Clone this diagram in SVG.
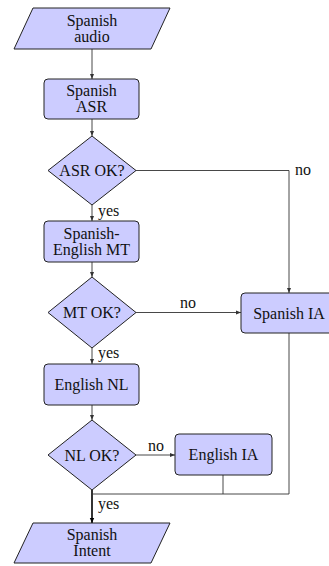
<svg xmlns="http://www.w3.org/2000/svg" width="329" height="566" viewBox="0 0 329 566">
<defs>
<style>
.n{fill:#ccccff;stroke:#222;stroke-width:1}
.t{text-anchor:middle}
.c{fill:none;stroke:#333;stroke-width:0.9}
.k{fill:none;stroke:#000;stroke-width:1.6}
</style>
<marker id="ah" markerUnits="userSpaceOnUse" markerWidth="6" markerHeight="6" viewBox="0 0 6 6" refX="5" refY="3" orient="auto">
<path d="M0,1 L5,3 L0,5 Z" fill="#333"/>
</marker>
<marker id="ahk" markerUnits="userSpaceOnUse" markerWidth="6" markerHeight="6" viewBox="0 0 6 6" refX="5" refY="3" orient="auto">
<path d="M0,0.8 L5,3 L0,5.2 Z" fill="#000"/>
</marker>
</defs>
<rect width="329" height="566" fill="#fff"/>
<g font-family="Liberation Serif, Times New Roman, DejaVu Serif, serif" font-size="16" fill="#111">
<g id="connectors">
<path class="c" d="M92,49 V79" marker-end="url(#ah)"/>
<path class="c" d="M92,119 V136" marker-end="url(#ah)"/>
<path class="c" d="M92,205 V221" marker-end="url(#ah)"/>
<path class="c" d="M92,262 V277" marker-end="url(#ah)"/>
<path class="c" d="M92,348 V364" marker-end="url(#ah)"/>
<path class="c" d="M92,405 V420" marker-end="url(#ah)"/>
<path class="k" d="M92,490 V523" marker-end="url(#ahk)"/>
<path class="c" d="M136,170.5 H289 V293" marker-end="url(#ah)"/>
<path class="c" d="M136,312.5 H241" marker-end="url(#ah)"/>
<path class="c" d="M136,455 H175" marker-end="url(#ah)"/>
<path class="c" d="M223,475 V494"/>
<path class="c" d="M289,333 V494 H92"/>
<text x="295" y="174.5">no</text>
<text x="98" y="216">yes</text>
<text x="180" y="308">no</text>
<text x="98" y="358">yes</text>
<text x="148" y="451">no</text>
<text x="98" y="509">yes</text>
</g>
<g id="spanish-audio">
<polygon class="n" points="33,8 170,8 151,49 14,49"/>
<text class="t" x="92" y="25.5">Spanish</text>
<text class="t" x="92" y="41.5">audio</text>
</g>
<g id="spanish-asr">
<rect class="n" x="44" y="79" width="95" height="40" rx="4"/>
<text class="t" x="91.5" y="96">Spanish</text>
<text class="t" x="91.5" y="112">ASR</text>
</g>
<g id="asr-ok">
<polygon class="n" points="92,136 136,170.5 92,205 48,170.5"/>
<text class="t" x="92" y="176">ASR OK?</text>
</g>
<g id="spanish-english-mt">
<rect class="n" x="44" y="221" width="95" height="41" rx="4"/>
<text class="t" x="91.5" y="238.5">Spanish-</text>
<text class="t" x="91.5" y="254.5">English MT</text>
</g>
<g id="mt-ok">
<polygon class="n" points="92,277 136,312.5 92,348 48,312.5"/>
<text class="t" x="92" y="318">MT OK?</text>
</g>
<g id="spanish-ia">
<rect class="n" x="241" y="293" width="96" height="40" rx="4"/>
<text class="t" x="289" y="318.5">Spanish IA</text>
</g>
<g id="english-nl">
<rect class="n" x="44" y="364" width="95" height="41" rx="4"/>
<text class="t" x="91.5" y="390">English NL</text>
</g>
<g id="nl-ok">
<polygon class="n" points="92,420 136,455 92,490 48,455"/>
<text class="t" x="92" y="460.5">NL OK?</text>
</g>
<g id="english-ia">
<rect class="n" x="175" y="434" width="97" height="41" rx="4"/>
<text class="t" x="223.5" y="460">English IA</text>
</g>
<g id="spanish-intent">
<polygon class="n" points="33,523 170,523 151,563 14,563"/>
<text class="t" x="92" y="540">Spanish</text>
<text class="t" x="92" y="556">Intent</text>
</g>
</g>
</svg>
